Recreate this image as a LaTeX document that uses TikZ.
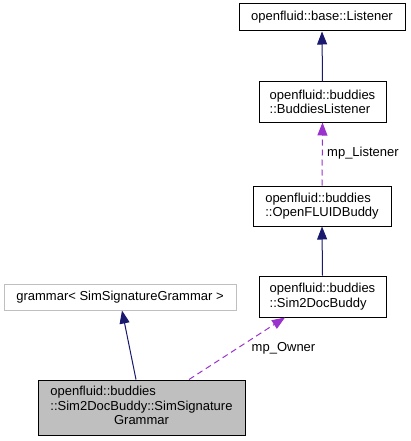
\documentclass[tikz,border=0pt]{standalone}
\usepackage{fontspec}
\setmainfont{Liberation Sans}
\usetikzlibrary{arrows.meta}
\definecolor{edgeblue}{HTML}{191970}
\definecolor{edgepurple}{HTML}{9A32CD}
\definecolor{boxgray}{HTML}{BFBFBF}
\tikzset{
  cls/.style={draw=black, line width=1pt, fill=white, inner sep=0pt, align=left, font=\fontsize{13}{14.5}\selectfont},
  inh/.style={draw=edgeblue, line width=1pt, -{Triangle[length=13pt,width=10pt]}},
  use/.style={draw=edgepurple, line width=1pt, dash pattern=on 6pt off 4pt, -{Triangle[length=13pt,width=10pt]}},
  lbl/.style={font=\fontsize{13}{14.5}\selectfont, inner sep=0pt}
}
\begin{document}
\begin{tikzpicture}[x=1pt,y=-1pt]
\useasboundingbox (0,0) rectangle (410,441);
\node[cls, minimum width=166pt, minimum height=27pt] (lis) at (322,17.5) {openfluid::base::Listener};
\node[cls, minimum width=127pt, minimum height=40pt] (bl) at (322.5,102) {openfluid::buddies\\::BuddiesListener};
\node[cls, minimum width=138pt, minimum height=40pt] (ofb) at (322,206) {openfluid::buddies\\::OpenFLUIDBuddy};
\node[cls, minimum width=127pt, minimum height=41pt] (s2d) at (322.5,296.5) {openfluid::buddies\\::Sim2DocBuddy};
\node[cls, draw=boxgray, minimum width=232pt, minimum height=26pt] (gr) at (120,297) {grammar< SimSignatureGrammar >};
\node[cls, fill=boxgray, minimum width=207pt, minimum height=55pt] (ssg) at (141.5,407.5) {\begin{tabular}{@{}l@{}}openfluid::buddies\\::Sim2DocBuddy::SimSignature\\\multicolumn{1}{@{}c@{}}{Grammar}\end{tabular}};
\draw[inh] (bl.north) -- (lis.south);
\draw[use] (ofb.north) -- (bl.south);
\node[lbl, anchor=west] (l1) at (327,153) {mp\_Listener};
\draw[inh] (s2d.north) -- (ofb.south);
\draw[inh] (ssg.north -| 136,0) -- (gr.south -| 122,0);
\draw[use] (ssg.north -| 189,0) -- (s2d.south -| 285,0);
\node[lbl, anchor=center] (l2) at (283.5,348) {mp\_Owner};
\end{tikzpicture}
\end{document}
